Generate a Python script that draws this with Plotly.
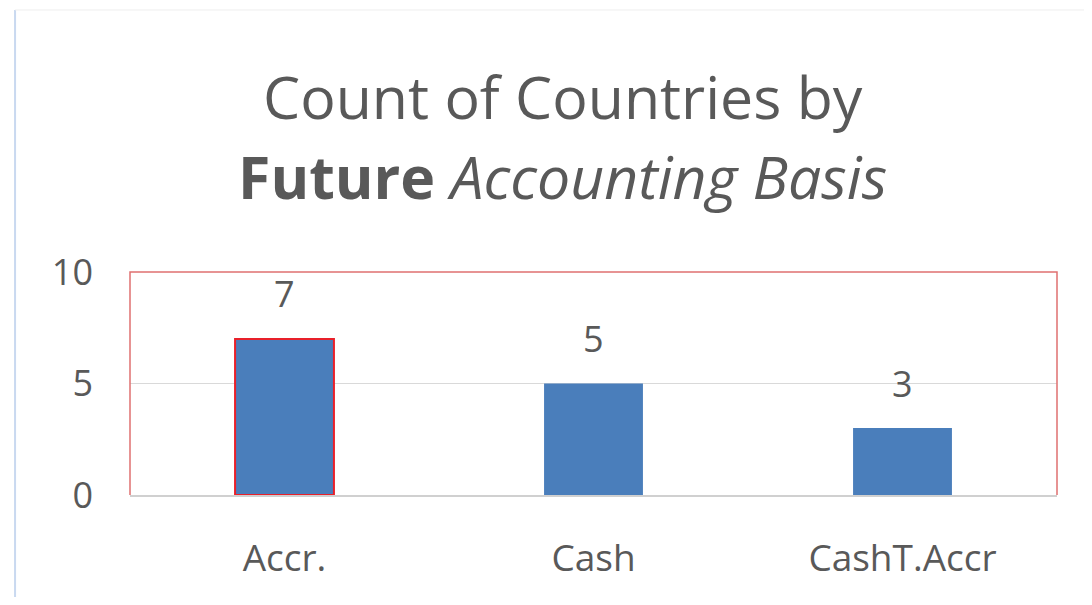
import plotly.graph_objects as go

# chart data
categories = ['Accr.', 'Cash', 'CashT.Accr']
counts = [7, 5, 3]
y_ticks = [0, 5, 10]

BAR_BLUE = '#4a7ebb'
TEXT_GREY = '#595959'
FRAME_RED = '#e07070'

fig = go.Figure()

fig.add_trace(go.Bar(
    x=categories,
    y=counts,
    marker=dict(
        color=BAR_BLUE,
        line=dict(color=['#e8202a', 'rgba(0,0,0,0)', 'rgba(0,0,0,0)'], width=2),
    ),
    width=0.32,
    showlegend=False,
))

# data labels floating above each bar
for cat, val in zip(categories, counts):
    fig.add_annotation(
        x=cat, y=val, text=str(val), showarrow=False,
        yshift=45, yanchor='middle', font=dict(size=36, color=TEXT_GREY),
    )

# two-line title
fig.add_annotation(
    xref='paper', yref='paper', x=0.467, y=1.79, yanchor='middle',
    text='Count of Countries by', showarrow=False,
    font=dict(size=59, color=TEXT_GREY),
)
fig.add_annotation(
    xref='paper', yref='paper', x=0.467, y=1.43, yanchor='middle',
    text='<b>Future</b> <i>Accounting Basis</i>', showarrow=False,
    font=dict(size=59, color=TEXT_GREY),
)

# plot area frame (red on three sides, grey base) and faint outer chart frame
fig.add_shape(type='path', xref='paper', yref='paper',
              path='M 0,0 L 0,1 L 1,1 L 1,0',
              line=dict(color=FRAME_RED, width=1.5), layer='above')
fig.add_shape(type='line', xref='paper', yref='paper', x0=-0.124, x1=-0.124, y0=-0.5, y1=2.175,
              line=dict(color='#c9d9f0', width=2))
fig.add_shape(type='line', xref='paper', yref='paper', x0=-0.124, x1=1.2, y0=2.175, y1=2.175,
              line=dict(color='#eeeeee', width=1))

fig.update_layout(
    width=1076, height=589,
    margin=dict(l=122, r=27, t=264, b=102),
    paper_bgcolor='white',
    plot_bgcolor='white',
    font=dict(family='Open Sans', color=TEXT_GREY),
)
fig.update_yaxes(
    range=[0, 10], tickvals=y_ticks,
    showgrid=True, gridcolor='#d9d9d9', gridwidth=1,
    zeroline=False, showline=False,
    tickfont=dict(size=36, color=TEXT_GREY),
    ticklabelstandoff=36,
)
fig.update_xaxes(
    showline=True, linecolor='#d0d0d0', linewidth=1.5,
    tickfont=dict(size=37, color=TEXT_GREY),
    ticklabelstandoff=30,
)

fig.write_html("out.html")
